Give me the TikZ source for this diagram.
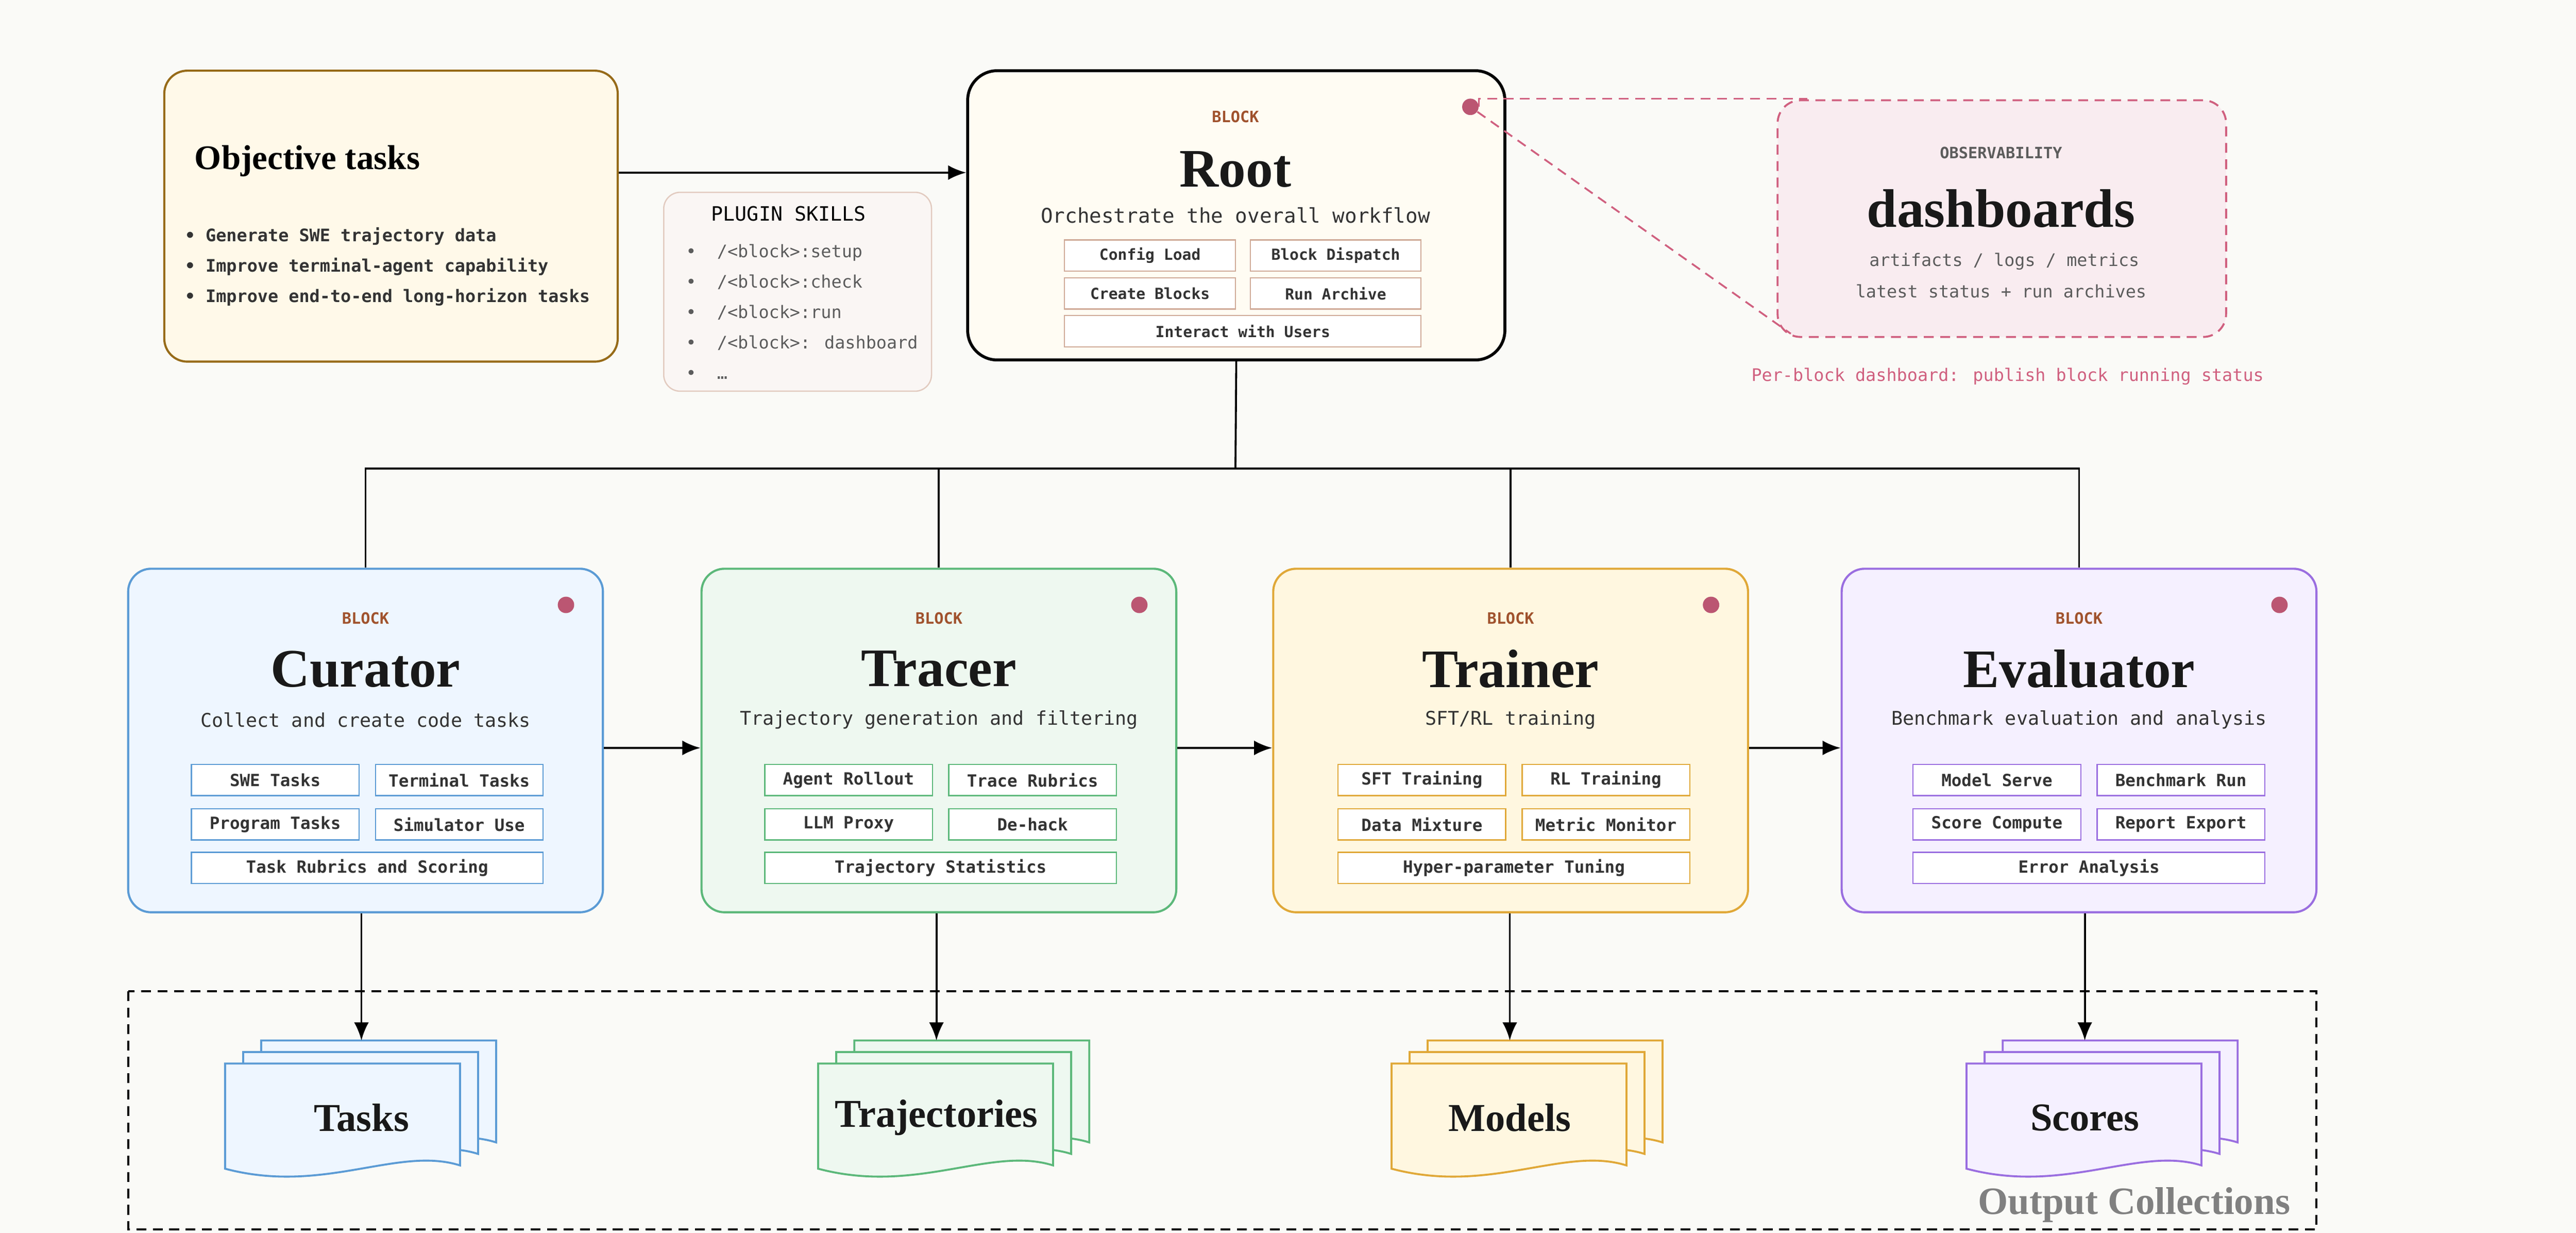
\documentclass[tikz,border=0pt]{standalone}
\usepackage{fontspec}
\setmainfont{Liberation Serif}
\newfontfamily\mono{DejaVu Sans Mono}
\usetikzlibrary{arrows.meta}
\definecolor{bg}{HTML}{FAFAF7}
\definecolor{brn}{HTML}{A0522D}
\definecolor{pk}{HTML}{D0607F}
\definecolor{cB}{HTML}{5B9BD5}\definecolor{fB}{HTML}{EEF6FF}
\definecolor{cG}{HTML}{5CB87A}\definecolor{fG}{HTML}{EEF8F0}
\definecolor{cY}{HTML}{E0A838}\definecolor{fY}{HTML}{FFF7E0}
\definecolor{cP}{HTML}{9A6EE0}\definecolor{fP}{HTML}{F5F0FF}
\definecolor{txt}{HTML}{333333}
\tikzset{
 box/.style={rounded corners=14pt,line width=1.3pt},
 btn/.style={draw=#1,fill=white,line width=0.7pt,inner sep=0pt,minimum height=19pt,font=\mono\bfseries\fontsize{10.2}{12}\selectfont,text=txt},
 lbl/.style={font=\mono\bfseries\fontsize{9.5}{11}\selectfont,text=brn},
 ttl/.style={font=\bfseries\fontsize{33}{36}\selectfont,text=black!90},
 sub/.style={font=\mono\fontsize{11.5}{14}\selectfont,text=txt},
 arr/.style={line width=1.2pt,-{Latex[length=11pt,width=9pt]}},
 ln/.style={line width=1.2pt},
 dsh/.style={dash pattern=on 6pt off 4pt},
 dot/.style={circle,fill=pk!90!black,inner sep=0pt,minimum size=10pt},
}
\newcommand\docstack[6]{%
 \foreach \d in {2,1,0}{
  \draw[draw=#4,fill=#3,line width=1.2pt,shift={(#1+11*\d,#2-7*\d)}] (0,0) -- (143,0) -- (143,62) .. controls (105,50) and (60,80) .. (0,64) -- cycle;}
 \node[font=\bfseries\fontsize{24}{28}\selectfont,text=black!90] (#5) at (#6,#2+33) {#5};
 \coordinate (#5top) at (#6,#2-14);}
\begin{document}
\begin{tikzpicture}[x=1pt,y=-1pt]
\fill[bg] (0,0) rectangle (1568,750);
\useasboundingbox (0,0) rectangle (1568,750);
% objective
\node[box,draw=brn!70!yellow!80!black,fill=fY!70!white,minimum width=276pt,minimum height=177pt,inner sep=0pt] (obj) at (238,131.5) {};
\node[anchor=west,font=\bfseries\fontsize{21}{24}\selectfont] (objt) at (115,98) {Objective tasks};
\node[anchor=north west,font=\mono\bfseries\fontsize{10.5}{18.5}\selectfont,text=txt,align=left] (objl) at (109,135) {• Generate SWE trajectory data\\• Improve terminal-agent capability\\• Improve end-to-end long-horizon tasks};
% plugin
\node[draw=brn!30,fill=brn!5,rounded corners=10pt,line width=0.8pt,minimum width=163pt,minimum height=121pt] (plg) at (485.5,177.5) {};
\node[font=\mono\fontsize{12}{14}\selectfont] (plgt) at (480,130) {PLUGIN SKILLS};
\node[anchor=north west,font=\mono\fontsize{10.5}{18.5}\selectfont,text=txt!80,align=left] (plgl) at (414,145) {•\ \ /<block>:setup\\•\ \ /<block>:check\\•\ \ /<block>:run\\•\ \ /<block>: dashboard\\•\ \ …};
% root
\node[box,draw=black,line width=1.8pt,fill=white!60!fY,rounded corners=18pt,minimum width=327pt,minimum height=176pt] (root) at (752.5,131) {};
\node[lbl] at (752,71) {BLOCK};
\node[ttl] at (752,103) {Root};
\node[sub,font=\mono\fontsize{12.3}{14}\selectfont] at (752,131) {Orchestrate the overall workflow};
\tikzset{rb/.style={btn=brn!50,minimum width=104pt,font=\mono\bfseries\fontsize{9.3}{11}\selectfont}}
\node[rb] (r1) at (700,155.5) {Config Load};
\node[rb] (r2) at (813,155.5) {Block Dispatch};
\node[rb] (r3) at (700,178.5) {Create Blocks};
\node[rb] (r4) at (813,178.5) {Run Archive};
\node[rb,minimum width=217pt] (r5) at (756.5,201.5) {Interact with Users};
\draw[arr] (obj.east|-0,105) -- (root.west|-0,105);
% observability
\node[draw=pk,dsh,fill=pk!12,rounded corners=14pt,line width=1.2pt,minimum width=273pt,minimum height=144pt] (obs) at (1218.5,133) {};
\node[font=\mono\bfseries\fontsize{9.5}{11}\selectfont,text=txt!80] at (1218,93) {OBSERVABILITY};
\node[ttl] at (1218,127) {dashboards};
\node[sub,text=txt!80,font=\mono\fontsize{10.5}{12}\selectfont] at (1220,159) {artifacts / logs / metrics};
\node[sub,text=txt!80,font=\mono\fontsize{10.5}{12}\selectfont] at (1218,177) {latest status + run archives};
\node[font=\mono\fontsize{10.5}{12}\selectfont,text=pk] (cap) at (1222,229) {Per-block dashboard: publish block running status};
\node[dot] (rdot) at (895,65) {};
\draw[pk,dsh,line width=1.1pt] (rdot.east) -- (rdot.east|-0,60) -- (1100,60);
\draw[pk,dsh,line width=1.1pt] (rdot) -- (1090,203);
% blocks
\newcommand\blk[6]{%
 \node[box,draw=#3,fill=#4,minimum width=289pt,minimum height=209pt] (#2) at (#1,450.5) {};
 \node[lbl] at (#1,376) {BLOCK};
 \node[ttl] at (#1,407) {#5};
 \node[sub] at (#1,438) {#6};
 \node[dot] at (#1+122,368) {};}
\blk{222.5}{cur}{cB}{fB}{Curator}{Collect and create code tasks}
\blk{571.5}{trc}{cG}{fG}{Tracer}{Trajectory generation and filtering}
\blk{919.5}{trn}{cY}{fY}{Trainer}{SFT/RL training}
\blk{1265.5}{evl}{cP}{fP}{Evaluator}{Benchmark evaluation and analysis}
\newcommand\btns[7]{% cx color a b c d e
 \node[btn=#2,minimum width=102pt] at (#1-55.5,474.5) {#3};
 \node[btn=#2,minimum width=102pt] at (#1+56.5,474.5) {#4};
 \node[btn=#2,minimum width=102pt] at (#1-55.5,501.5) {#5};
 \node[btn=#2,minimum width=102pt] at (#1+56.5,501.5) {#6};
 \node[btn=#2,minimum width=214pt] at (#1+0.5,528) {#7};}
\btns{223}{cB}{SWE Tasks}{Terminal Tasks}{Program Tasks}{Simulator Use}{Task Rubrics and Scoring}
\btns{572}{cG}{Agent Rollout}{Trace Rubrics}{LLM Proxy}{De-hack}{Trajectory Statistics}
\btns{921}{cY}{SFT Training}{RL Training}{Data Mixture}{Metric Monitor}{Hyper-parameter Tuning}
\btns{1271}{cP}{Model Serve}{Benchmark Run}{Score Compute}{Report Export}{Error Analysis}
% tree
\coordinate (j) at (752,285);
\draw[ln] (root.south) -- (j);
\draw[ln] (cur.north) -- (cur.north|-j) -- (evl.north|-j) -- (evl.north);
\draw[ln] (trc.north) -- (trc.north|-j);
\draw[ln] (trn.north) -- (trn.north|-j);
\draw[arr] (cur.east|-0,455) -- (trc.west|-0,455);
\draw[arr] (trc.east|-0,455) -- (trn.west|-0,455);
\draw[arr] (trn.east|-0,455) -- (evl.west|-0,455);
% outputs
\draw[dsh,line width=1.2pt] (78,603) rectangle (1410,748);
\node[font=\bfseries\fontsize{23.5}{26}\selectfont,text=black!50] (oc) at (1299,733) {Output Collections};
\docstack{137}{647}{fB}{cB}{Tasks}{220}
\docstack{498}{647}{fG}{cG}{Trajectories}{570}
\docstack{847}{647}{fY}{cY}{Models}{919}
\docstack{1197}{647}{fP}{cP}{Scores}{1269}
\draw[arr] (cur.south-|Taskstop) -- (Taskstop);
\draw[arr] (trc.south-|Trajectoriestop) -- (Trajectoriestop);
\draw[arr] (trn.south-|Modelstop) -- (Modelstop);
\draw[arr] (evl.south-|Scorestop) -- (Scorestop);
\end{tikzpicture}
\end{document}
